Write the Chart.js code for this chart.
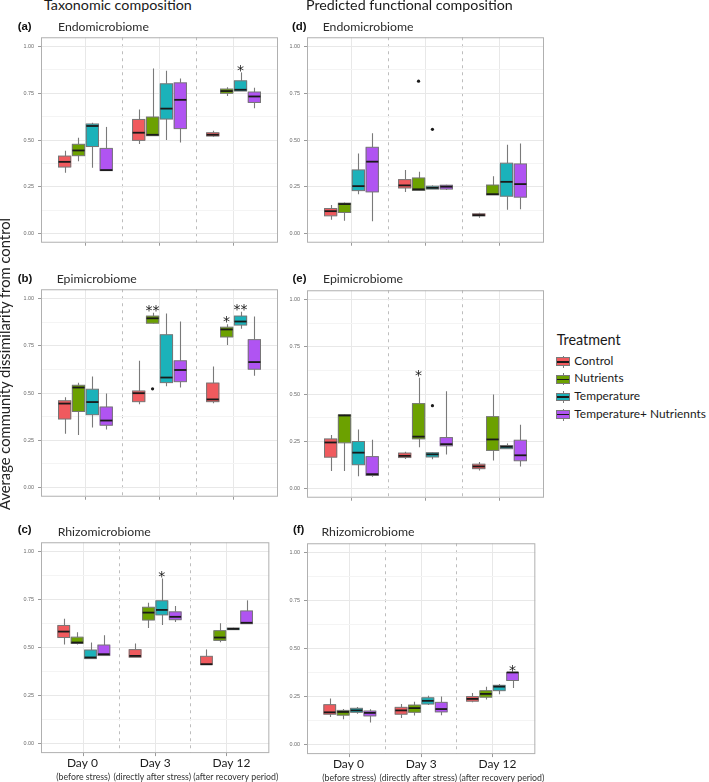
<!DOCTYPE html>
<html>
<head>
<meta charset="utf-8">
<script src="https://cdn.jsdelivr.net/npm/chart.js@4.4.1/dist/chart.umd.min.js"></script>
<style>
  html, body { margin: 0; padding: 0; background: #ffffff; }
  body { position: relative; width: 709px; height: 782px; overflow: hidden; }
  .t { position: absolute; white-space: nowrap; line-height: 1; margin: 0; }
  canvas { position: absolute; }
  .key { position: absolute; width: 14px; height: 12px; }
  .key .wh { position: absolute; left: 6.5px; top: 0; width: 1px; height: 12px; background: #7a7a7a; }
  .key .bx { position: absolute; left: 0; top: 1.6px; width: 14px; height: 8.8px; box-sizing: border-box; border: 1px solid #7a7a7a; }
  .key .md { position: absolute; left: 1px; top: 5.2px; width: 12px; height: 1.6px; background: #1a1a1a; }
</style>
</head>
<body>
<script>
// ---------------- DATA ----------------
const dayPositions = [1, 2, 3];
const dayLabels = ["Day 0", "Day 3", "Day 12"];
const daySubLabels = ["(before stress)", "(directly after stress)", "(after recovery period)"];
const treatments = ["Control", "Nutrients", "Temperature", "Temperature+ Nutriennts"];
const yTickValues = [0, 0.125, 0.25, 0.375, 0.5, 0.625, 0.75, 0.875, 1];

// each entry: [lower whisker, Q1, median, Q3, upper whisker] for Day 0, Day 3, Day 12
// (a) Taxonomic composition - Endomicrobiome
const taxEndoControl     = [[0.325, 0.355, 0.383, 0.414, 0.442], [0.479, 0.498, 0.539, 0.610, 0.663], [0.518, 0.521, 0.528, 0.539, 0.549]];
const taxEndoNutrients   = [[0.386, 0.416, 0.444, 0.477, 0.512], [0.523, 0.523, 0.528, 0.623, 0.883], [0.736, 0.750, 0.762, 0.773, 0.783]];
const taxEndoTemperature = [[0.352, 0.465, 0.575, 0.586, 0.593], [0.500, 0.612, 0.668, 0.801, 0.871], [0.762, 0.762, 0.769, 0.817, 0.862]];
const taxEndoTempNut     = [[0.336, 0.336, 0.339, 0.455, 0.570], [0.486, 0.561, 0.715, 0.806, 0.829], [0.670, 0.701, 0.733, 0.757, 0.780]];
const taxEndoOutliers = [];
const taxEndoSignif = [{ treatment: 2, day: 2, mark: "*" }];

// (b) Taxonomic composition - Epimicrobiome
const taxEpiControl     = [[0.284, 0.362, 0.444, 0.459, 0.477], [0.440, 0.454, 0.499, 0.511, 0.671], [0.445, 0.454, 0.466, 0.553, 0.640]];
const taxEpiNutrients   = [[0.277, 0.402, 0.529, 0.541, 0.555], [0.867, 0.870, 0.896, 0.908, 0.925], [0.754, 0.797, 0.837, 0.849, 0.865]];
const taxEpiTemperature = [[0.317, 0.385, 0.452, 0.520, 0.588], [0.536, 0.555, 0.582, 0.809, 0.922], [0.841, 0.860, 0.879, 0.908, 0.931]];
const taxEpiTempNut     = [[0.307, 0.329, 0.354, 0.426, 0.497], [0.529, 0.560, 0.622, 0.671, 0.879], [0.591, 0.626, 0.664, 0.783, 0.905]];
const taxEpiOutliers = [{ treatment: 1, day: 1, value: 0.522 }];
const taxEpiSignif = [{ treatment: 1, day: 1, mark: "**" }, { treatment: 1, day: 2, mark: "*" }, { treatment: 2, day: 2, mark: "**" }];

// (c) Taxonomic composition - Rhizomicrobiome
const taxRhizoControl     = [[0.517, 0.553, 0.584, 0.616, 0.651], [0.450, 0.450, 0.457, 0.490, 0.522], [0.411, 0.411, 0.414, 0.455, 0.491]];
const taxRhizoNutrients   = [[0.517, 0.522, 0.527, 0.555, 0.580], [0.603, 0.644, 0.683, 0.711, 0.735], [0.529, 0.538, 0.553, 0.589, 0.627]];
const taxRhizoTemperature = [[0.443, 0.443, 0.449, 0.488, 0.527], [0.618, 0.671, 0.697, 0.745, 0.861], [0.592, 0.594, 0.598, 0.603, 0.604]];
const taxRhizoTempNut     = [[0.459, 0.459, 0.466, 0.514, 0.565], [0.634, 0.646, 0.661, 0.687, 0.717], [0.625, 0.625, 0.630, 0.692, 0.747]];
const taxRhizoOutliers = [];
const taxRhizoSignif = [{ treatment: 2, day: 1, mark: "*" }];

// (d) Predicted functional composition - Endomicrobiome
const funEndoControl     = [[0.073, 0.094, 0.119, 0.133, 0.152], [0.222, 0.243, 0.257, 0.288, 0.340], [0.084, 0.093, 0.098, 0.105, 0.110]];
const funEndoNutrients   = [[0.068, 0.112, 0.157, 0.162, 0.166], [0.227, 0.230, 0.236, 0.297, 0.330], [0.206, 0.206, 0.210, 0.259, 0.306]];
const funEndoTemperature = [[0.209, 0.229, 0.253, 0.340, 0.428], [0.237, 0.237, 0.244, 0.253, 0.257], [0.126, 0.199, 0.276, 0.376, 0.474]];
const funEndoTempNut     = [[0.065, 0.222, 0.384, 0.461, 0.536], [0.232, 0.237, 0.250, 0.258, 0.260], [0.129, 0.194, 0.264, 0.372, 0.481]];
const funEndoOutliers = [{ treatment: 1, day: 1, value: 0.815 }, { treatment: 2, day: 1, value: 0.557 }];
const funEndoSignif = [];

// (e) Predicted functional composition - Epimicrobiome
const funEpiControl     = [[0.092, 0.165, 0.243, 0.262, 0.282], [0.156, 0.163, 0.172, 0.187, 0.194], [0.095, 0.104, 0.116, 0.128, 0.139]];
const funEpiNutrients   = [[0.092, 0.241, 0.386, 0.390, 0.393], [0.217, 0.262, 0.274, 0.449, 0.586], [0.148, 0.201, 0.259, 0.380, 0.498]];
const funEpiTemperature = [[0.064, 0.125, 0.189, 0.248, 0.312], [0.154, 0.166, 0.180, 0.189, 0.192], [0.210, 0.210, 0.220, 0.227, 0.238]];
const funEpiTempNut     = [[0.061, 0.068, 0.075, 0.168, 0.258], [0.179, 0.225, 0.234, 0.269, 0.515], [0.116, 0.146, 0.175, 0.255, 0.337]];
const funEpiOutliers = [{ treatment: 2, day: 1, value: 0.438 }];
const funEpiSignif = [{ treatment: 1, day: 1, mark: "*" }];

// (f) Predicted functional composition - Rhizomicrobiome
const funRhizoControl     = [[0.144, 0.158, 0.168, 0.208, 0.240], [0.139, 0.158, 0.178, 0.194, 0.211], [0.221, 0.226, 0.238, 0.250, 0.269]];
const funRhizoNutrients   = [[0.132, 0.153, 0.170, 0.178, 0.185], [0.151, 0.168, 0.190, 0.206, 0.223], [0.235, 0.247, 0.264, 0.281, 0.302]];
const funRhizoTemperature = [[0.161, 0.168, 0.178, 0.189, 0.196], [0.206, 0.211, 0.228, 0.244, 0.254], [0.262, 0.281, 0.302, 0.309, 0.316]];
const funRhizoTempNut     = [[0.115, 0.149, 0.165, 0.175, 0.184], [0.153, 0.170, 0.185, 0.220, 0.250], [0.295, 0.334, 0.376, 0.376, 0.376]];
const funRhizoOutliers = [];
const funRhizoSignif = [{ treatment: 3, day: 2, mark: "*" }];

// ---------------- STYLE ----------------
const fillColors = ["#F05A5E", "#6CA100", "#1BB2BA", "#B054F2"];
const boxEdge = "#767676";
const whiskerColor = "#7a7a7a";
const medianColor = "#1a1a1a";
const gridMajor = "#e8e8e8";
const gridMinor = "#f4f4f4";
const sepColor = "#bdbdbd";
const tickColor = "#9a9a9a";
const panelBorder = "#b0b0b0";
// label anchor positions on the x axis (the original labels sit slightly off the tick marks)
const dayLabelAnchors = [0.98, 2.0, 3.07];
const subLabelAnchors = [0.99, 1.96, 3.13];

const measureCtx = document.createElement("canvas").getContext("2d");
function fitSize(text, weight, family, width) {
  measureCtx.font = weight + " 100px " + family;
  return 100 * width / measureCtx.measureText(text).width;
}
const BASE = { "Lato": 0.887, "'Liberation Sans'": 0.847 };
function addText(text, o) {
  const fam = o.family || "Lato";
  const w = o.weight || 400;
  const size = o.size || fitSize(text, w, fam, o.width);
  const d = document.createElement("div");
  d.className = "t";
  d.textContent = text;
  d.style.fontFamily = fam;
  d.style.fontWeight = w;
  d.style.fontSize = size + "px";
  d.style.color = o.color || "#1a1a1a";
  const b = BASE[fam] * size;
  if (o.rotate) {
    d.style.transformOrigin = "0 0";
    d.style.transform = "rotate(-90deg)";
    d.style.left = (o.baseX - b) + "px";
    d.style.top = o.startY + "px";
  } else {
    d.style.left = o.x + "px";
    d.style.top = (o.baseline - b) + "px";
  }
  document.body.appendChild(d);
  return size;
}

const isMajor = v => Math.abs(v * 4 - Math.round(v * 4)) < 1e-6;
const yFont = fitSize("1.00", 400, "'Liberation Sans'", 10.6);
const dayFont = fitSize("Day 0", 400, "Lato", 31);
const subFont = fitSize("(after recovery period)", 400, "Lato", 85);

const boxplotPlugin = {
  id: "boxplotParts",
  beforeDatasetsDraw(chart) {
    const ctx = chart.ctx, ys = chart.scales.y;
    ctx.save();
    ctx.strokeStyle = whiskerColor;
    ctx.lineWidth = 1.1;
    chart.data.datasets.forEach((ds, di) => {
      chart.getDatasetMeta(di).data.forEach((bar, j) => {
        const s = ds.stats[j];
        const x = Math.round(bar.x) + 0.5;
        ctx.beginPath();
        ctx.moveTo(x, ys.getPixelForValue(s[0]));
        ctx.lineTo(x, ys.getPixelForValue(s[1]));
        ctx.moveTo(x, ys.getPixelForValue(s[3]));
        ctx.lineTo(x, ys.getPixelForValue(s[4]));
        ctx.stroke();
      });
    });
    ctx.restore();
  },
  afterDatasetsDraw(chart) {
    const ctx = chart.ctx, ys = chart.scales.y, ca = chart.chartArea;
    const p = chart.options.plugins.boxplotParts;
    ctx.save();
    // box outlines
    ctx.strokeStyle = boxEdge;
    ctx.lineWidth = 1;
    chart.data.datasets.forEach((ds, di) => {
      chart.getDatasetMeta(di).data.forEach((bar, j) => {
        const { x, width } = bar.getProps(["x", "width"], true);
        const y1 = ys.getPixelForValue(ds.stats[j][3]);
        const y2 = ys.getPixelForValue(ds.stats[j][1]);
        ctx.strokeRect(x - width / 2 + 0.5, y1, width - 1, Math.max(y2 - y1, 0.5));
      });
    });
    // medians
    ctx.strokeStyle = medianColor;
    ctx.lineWidth = 1.8;
    chart.data.datasets.forEach((ds, di) => {
      chart.getDatasetMeta(di).data.forEach((bar, j) => {
        const { x, width } = bar.getProps(["x", "width"], true);
        const ym = ys.getPixelForValue(ds.stats[j][2]);
        ctx.beginPath();
        ctx.moveTo(x - width / 2 + 0.5, ym);
        ctx.lineTo(x + width / 2 - 0.5, ym);
        ctx.stroke();
      });
    });
    // outliers
    ctx.fillStyle = "#1a1a1a";
    p.outliers.forEach(o => {
      const bar = chart.getDatasetMeta(o.treatment).data[o.day];
      ctx.beginPath();
      ctx.arc(bar.x, ys.getPixelForValue(o.value), 1.6, 0, Math.PI * 2);
      ctx.fill();
    });
    // significance marks
    ctx.font = "14px 'DejaVu Sans'";
    ctx.textAlign = "center";
    ctx.textBaseline = "alphabetic";
    ctx.fillStyle = "#1a1a1a";
    p.signif.forEach(m => {
      const bar = chart.getDatasetMeta(m.treatment).data[m.day];
      const top = ys.getPixelForValue(chart.data.datasets[m.treatment].stats[m.day][4]);
      ctx.fillText(m.mark, bar.x, top - 5.8 + 0.58 * 14);
    });
    // panel border
    ctx.strokeStyle = panelBorder;
    ctx.lineWidth = 1;
    ctx.strokeRect(ca.left + 0.5, ca.top + 0.5, ca.right - ca.left - 1, ca.bottom - ca.top - 1);
    ctx.restore();
  }
};

const YW = 34, PADT = 5, PADR = 3;
const XH_PLAIN = 5;
const XH_TICK = 3;
const DAYH = dayFont * 1.2;
const SUBH = subFont * 1.2 + 2;

function labelAxis(anchors, labels, font, height, padding, weight, color) {
  return {
    type: "linear", axis: "x", position: "bottom", weight, min: 0.4, max: 3.6, offset: false,
    afterBuildTicks: s => { s.ticks = anchors.map(v => ({ value: v })); },
    afterFit: s => { s.height = height; },
    grid: { display: false, offset: false, drawTicks: false },
    border: { display: false },
    ticks: {
      display: true, padding, autoSkip: false, maxRotation: 0, minRotation: 0,
      font: { family: "Lato", size: font }, color,
      callback: (v, i) => labels[i]
    }
  };
}

function buildPanel(p) {
  const cv = document.createElement("canvas");
  const bottomH = p.labels ? XH_TICK + DAYH + SUBH : XH_PLAIN;
  cv.width = YW + p.w + PADR;
  cv.height = PADT + p.h + bottomH;
  cv.style.left = (p.left - YW) + "px";
  cv.style.top = (p.top - PADT) + "px";
  document.body.appendChild(cv);

  const datasets = p.series.map((s, i) => ({
    label: treatments[i],
    data: s.map((v, j) => ({ x: dayPositions[j], y: [v[1], v[3]] })),
    stats: s,
    xAxisID: "x",
    yAxisID: "y",
    backgroundColor: fillColors[i],
    borderWidth: 0,
    categoryPercentage: 0.75,
    barPercentage: 0.95
  }));

  const scales = {
    x: {
      type: "linear", axis: "x", position: "bottom", min: 0.4, max: 3.6, offset: false,
      afterBuildTicks: s => { s.ticks = dayPositions.map(v => ({ value: v })); },
      afterFit: s => { s.height = p.labels ? XH_TICK : XH_PLAIN; },
      grid: { offset: false, color: gridMajor, lineWidth: 1, drawTicks: true, tickLength: 3, tickColor: tickColor, tickWidth: 1 },
      border: { display: false },
      ticks: { display: false }
    },
    sep: {
      type: "linear", axis: "x", position: "bottom", min: 0.4, max: 3.6, offset: false,
      afterBuildTicks: s => { s.ticks = [{ value: 1.5 }, { value: 2.5 }]; },
      afterFit: s => { s.height = 0; },
      grid: { offset: false, color: sepColor, lineWidth: 1, drawTicks: false },
      border: { display: false, dash: [3, 4] },
      ticks: { display: false }
    },
    y: {
      type: "linear", min: -0.05, max: 1.05,
      afterBuildTicks: s => { s.ticks = yTickValues.map(v => ({ value: v })); },
      afterFit: s => { s.width = YW; },
      grid: {
        color: c => (c.tick && isMajor(c.tick.value)) ? gridMajor : gridMinor,
        lineWidth: 1, drawTicks: true, tickLength: 3,
        tickColor: c => (c.tick && isMajor(c.tick.value)) ? tickColor : "rgba(0,0,0,0)"
      },
      border: { display: false },
      ticks: {
        autoSkip: false, padding: 4,
        font: { family: "'Liberation Sans'", size: yFont }, color: "#6b6b6b",
        callback: v => isMajor(v) ? v.toFixed(2) : ""
      }
    }
  };
  if (p.labels) {
    scales.day = labelAxis(dayLabelAnchors, dayLabels, dayFont, DAYH, 0, 1, "#1a1a1a");
    scales.sub = labelAxis(subLabelAnchors, daySubLabels, subFont, SUBH, 1, 2, "#333333");
  }

  new Chart(cv, {
    type: "bar",
    data: { datasets },
    options: {
      responsive: false, animation: false, devicePixelRatio: 1, events: [],
      layout: { padding: { left: 0, top: PADT, right: PADR, bottom: 0 } },
      plugins: {
        legend: { display: false }, tooltip: { enabled: false },
        boxplotParts: { outliers: p.outliers, signif: p.signif }
      },
      scales
    },
    plugins: [boxplotPlugin]
  });
}

const panels = [
  { left: 41,  top: 35,  w: 237, h: 210, labels: false, series: [taxEndoControl, taxEndoNutrients, taxEndoTemperature, taxEndoTempNut], outliers: taxEndoOutliers, signif: taxEndoSignif },
  { left: 41,  top: 287, w: 237, h: 212, labels: false, series: [taxEpiControl, taxEpiNutrients, taxEpiTemperature, taxEpiTempNut], outliers: taxEpiOutliers, signif: taxEpiSignif },
  { left: 41,  top: 540, w: 237, h: 214, labels: true,  series: [taxRhizoControl, taxRhizoNutrients, taxRhizoTemperature, taxRhizoTempNut], outliers: taxRhizoOutliers, signif: taxRhizoSignif },
  { left: 307, top: 35,  w: 237, h: 210, labels: false, series: [funEndoControl, funEndoNutrients, funEndoTemperature, funEndoTempNut], outliers: funEndoOutliers, signif: funEndoSignif },
  { left: 307, top: 288, w: 237, h: 212, labels: false, series: [funEpiControl, funEpiNutrients, funEpiTemperature, funEpiTempNut], outliers: funEpiOutliers, signif: funEpiSignif },
  { left: 307, top: 541, w: 237, h: 214, labels: true,  series: [funRhizoControl, funRhizoNutrients, funRhizoTemperature, funRhizoTempNut], outliers: funRhizoOutliers, signif: funRhizoSignif }
];
panels.forEach(buildPanel);

// ---------------- TEXT ----------------
addText("Taxonomic composition", { x: 44, baseline: 10.5, width: 148 });
addText("Predicted functional composition", { x: 306, baseline: 10.5, width: 207 });

const tagSize = fitSize("(a)", 700, "'Liberation Sans'", 14);
const facetSize = fitSize("Endomicrobiome", 400, "Lato", 91);
[["(a)", 17.7, 30.5], ["(b)", 17.7, 282.8], ["(c)", 17.7, 533.5],
 ["(d)", 292, 30.5], ["(e)", 292.5, 282.8], ["(f)", 293, 533.5]].forEach(([t, x, b]) =>
  addText(t, { x, baseline: b, size: tagSize, family: "'Liberation Sans'", weight: 700, color: "#111" }));
[["Endomicrobiome", 58, 31.7], ["Epimicrobiome", 56.7, 283.5], ["Rhizomicrobiome", 57.7, 536.7],
 ["Endomicrobiome", 322.7, 31.7], ["Epimicrobiome", 323, 284], ["Rhizomicrobiome", 321.5, 536.7]].forEach(([t, x, b]) =>
  addText(t, { x, baseline: b, size: facetSize, color: "#2b2b2b" }));

// y axis title
(function () {
  const txt = "Average community dissimilarity from control";
  const size = fitSize(txt, 400, "Lato", 293);
  addText(txt, { rotate: true, baseX: 10.5, startY: 510, size, color: "#222" });
})();

// legend
addText("Treatment", { x: 556.7, baseline: 345.5, width: 64, color: "#1a1a1a" });
const legSize = fitSize("Control", 400, "Lato", 39);
const keyCenters = [361.8, 379.4, 397, 414.5];
treatments.forEach((t, i) => {
  const k = document.createElement("div");
  k.className = "key";
  k.style.left = "556px";
  k.style.top = (keyCenters[i] - 6) + "px";
  k.innerHTML = '<div class="wh"></div><div class="bx" style="background:' + fillColors[i] + '"></div><div class="md"></div>';
  document.body.appendChild(k);
  addText(t, { x: 574.3, baseline: keyCenters[i] + 3.6, size: legSize, color: "#1a1a1a" });
});
</script>
</body>
</html>
